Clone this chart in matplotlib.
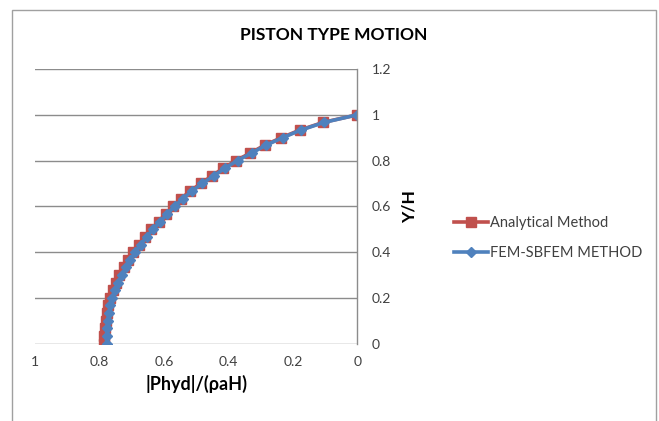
import numpy as np
import matplotlib
matplotlib.use("Agg")
import matplotlib.pyplot as plt
from matplotlib.patches import Rectangle

plt.rcParams['font.family'] = ['Lato', 'DejaVu Sans']

# depth ratio Y/H, from bottom (0) to free surface (1)
y_over_h = [0.0, 0.033, 0.067, 0.100, 0.133, 0.167, 0.200, 0.233, 0.267, 0.300,
            0.333, 0.367, 0.400, 0.433, 0.467, 0.500, 0.533, 0.567, 0.600, 0.633,
            0.667, 0.700, 0.733, 0.767, 0.800, 0.833, 0.867, 0.900, 0.933, 0.967, 1.0]

# |Phyd|/(rho a H)
analytical = [0.785, 0.785, 0.784, 0.781, 0.778, 0.773, 0.767, 0.759, 0.748, 0.738,
              0.725, 0.711, 0.695, 0.678, 0.660, 0.639, 0.617, 0.595, 0.572, 0.548,
              0.518, 0.486, 0.451, 0.416, 0.377, 0.332, 0.288, 0.236, 0.179, 0.106, 0.0]
fem_sbfem = [0.778, 0.778, 0.777, 0.775, 0.771, 0.766, 0.760, 0.752, 0.742, 0.731,
             0.718, 0.704, 0.689, 0.672, 0.654, 0.634, 0.612, 0.590, 0.567, 0.542,
             0.513, 0.481, 0.446, 0.411, 0.372, 0.328, 0.284, 0.232, 0.176, 0.103, 0.0]

x_ticks = [1, 0.8, 0.6, 0.4, 0.2, 0]
x_labels = ['1', '0.8', '0.6', '0.4', '0.2', '0']
y_ticks = [0, 0.2, 0.4, 0.6, 0.8, 1.0, 1.2]
y_labels = ['0', '0.2', '0.4', '0.6', '0.8', '1', '1.2']

W, H = 659, 421
fig = plt.figure(figsize=(W / 100, H / 100), dpi=100)

# outer chart border
fig.patches.append(Rectangle((12 / W, -0.05), 644 / W, 1.05 - 10 / H,
                             transform=fig.transFigure, fill=False,
                             edgecolor='#a0a0a0', linewidth=1.0))

ax = fig.add_axes([35 / W, (H - 343.7) / H, 322.5 / W, 274.7 / H])

grid_col = '#8c8c8c'
ax.plot(analytical, y_over_h, color='#C0504D', linewidth=2.6, marker='s',
        markersize=6.6, markeredgecolor='#C0504D', label='Analytical Method')
ax.plot(fem_sbfem, y_over_h, color='#4F81BD', linewidth=2.6, marker='D',
        markersize=5.0, markeredgecolor='#4F81BD', label='FEM-SBFEM METHOD')

ax.set_xlim(1, 0)
ax.set_ylim(0, 1.2)
ax.set_xticks(x_ticks)
ax.set_xticklabels(x_labels)
ax.set_yticks(y_ticks)
ax.set_yticklabels(y_labels)
ax.yaxis.tick_right()
ax.yaxis.set_label_position('right')
ax.tick_params(length=0, labelsize=10, colors='#404040')
ax.tick_params(axis='x', pad=9)
ax.tick_params(axis='y', pad=10)
for lab in ax.get_yticklabels():
    lab.set_horizontalalignment('left')

for yv in y_ticks:
    ax.axhline(yv, color=grid_col, linewidth=1.0, zorder=0)
for s in ['top', 'left', 'bottom']:
    ax.spines[s].set_visible(False)
ax.spines['right'].set_color(grid_col)
ax.spines['right'].set_linewidth(1.0)

ax.set_xlabel('|Phyd|/(\u03c1aH)', fontsize=13, fontweight='bold', labelpad=5)
ax.set_ylabel('Y/H', fontsize=12.5, fontweight='bold', rotation=90, labelpad=8)

fig.text(334 / W, 1 - 35 / H, 'PISTON TYPE MOTION', fontsize=12.5,
         fontweight='bold', ha='center', va='center')

fig.legend(loc='center left', bbox_to_anchor=(447 / W, 1 - 238 / H),
           frameon=False, fontsize=10.5, handlelength=2.3, handletextpad=0.15,
           labelspacing=1.05, borderpad=0, labelcolor='#404040')

fig.savefig('out.png', dpi=100)
